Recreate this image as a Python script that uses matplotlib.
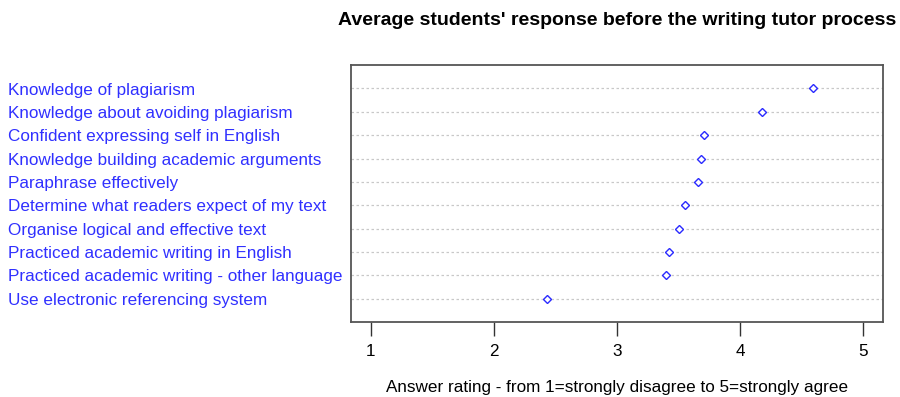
import numpy as np
import matplotlib
matplotlib.use('Agg')
import matplotlib.pyplot as plt
from matplotlib.transforms import blended_transform_factory

plt.rcParams['font.family'] = ['Liberation Sans', 'DejaVu Sans']

# Items, top to bottom as shown
items = [
    'Knowledge of plagiarism',
    'Knowledge about avoiding plagiarism',
    'Confident expressing self in English',
    'Knowledge building academic arguments',
    'Paraphrase effectively',
    'Determine what readers expect of my text',
    'Organise logical and effective text',
    'Practiced academic writing in English',
    'Practiced academic writing - other language',
    'Use electronic referencing system',
]
ratings = [4.59, 4.18, 3.71, 3.68, 3.66, 3.55, 3.50, 3.42, 3.40, 2.43]
ticks = [1, 2, 3, 4, 5]

fig = plt.figure(figsize=(9, 3.97), dpi=100)
ax = fig.add_axes([0.39, 0.189, 0.591, 0.647])

n = len(items)
ypos = np.arange(n, 0, -1)  # top item at n

for y in ypos:
    ax.axhline(y, color='#c8c8c8', ls=(0, (2, 2)), lw=0.9, zorder=1)
ax.plot(ratings, ypos, ls='none', marker='D', ms=4, mfc='white',
        mec='#2a2aff', mew=1.0, zorder=3)

ax.set_xlim(0.84, 5.16)
ax.set_ylim(0, n + 1)
ax.set_yticks([])
ax.set_xticks(ticks)
ax.set_xticklabels([str(t) for t in ticks], fontsize=12.3)
ax.tick_params(axis='x', length=10, width=1, color='#333333', pad=6)
for s in ax.spines.values():
    s.set_color('#555555')
    s.set_linewidth(1.3)

# category labels on the left, in blue
tr = blended_transform_factory(fig.transFigure, ax.transData)
for lab, y in zip(items, ypos):
    ax.text(8 / 900, y - 0.07, lab, transform=tr, ha='left', va='center',
            color='#3030ff', fontsize=12.3, clip_on=False)

ax.set_xlabel('Answer rating - from 1=strongly disagree to 5=strongly agree',
              fontsize=12.3, labelpad=15)
ax.set_title("Average students' response before the writing tutor process",
             fontsize=14, fontweight='bold', pad=29)

fig.savefig('out.png', dpi=100)
